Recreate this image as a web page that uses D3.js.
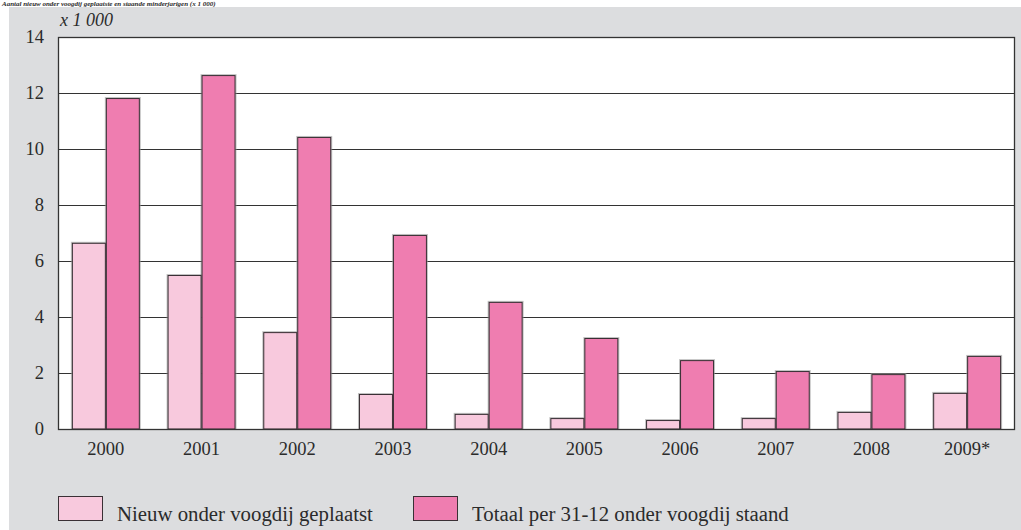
<!DOCTYPE html>
<html>
<head>
<meta charset="utf-8">
<script src="https://cdn.jsdelivr.net/npm/d3@7"></script>
<style>
  html, body { margin: 0; padding: 0; background: #ffffff; }
  svg { display: block; }
  text { font-family: "Liberation Serif", "DejaVu Serif", serif; fill: #2b2b2b; }
</style>
</head>
<body>
<svg id="chart" width="1021" height="530"></svg>
<script>
// Minderjarigen onder voogdij, per jaar (x 1 000)
const years = ["2000", "2001", "2002", "2003", "2004", "2005", "2006", "2007", "2008", "2009*"];
const nieuw = [6.65, 5.50, 3.46, 1.25, 0.54, 0.39, 0.32, 0.39, 0.61, 1.29];
const totaal = [11.82, 12.64, 10.43, 6.93, 4.54, 3.25, 2.46, 2.07, 1.96, 2.61];
const yTicks = [0, 2, 4, 6, 8, 10, 12, 14];
const seriesNames = ["Nieuw onder voogdij geplaatst", "Totaal per 31-12 onder voogdij staand"];
const seriesColors = ["#f8c9dd", "#ef7db0"];

const svg = d3.select("#chart");
const W = 1021, H = 530;

// Grey panel
svg.append("rect").attr("x", 9).attr("y", 7).attr("width", W - 9).attr("height", H - 7)
  .attr("fill", "#dcdddf");

// Title line in the strip above the panel
svg.append("text")
  .attr("x", 2).attr("y", 5.5)
  .attr("font-size", 7).attr("font-weight", "bold").attr("font-style", "italic")
  .text("Aantal nieuw onder voogdij geplaatste en staande minderjarigen (x 1 000)");

const plot = { left: 58, right: 1015, top: 37, bottom: 429 };

const x = d3.scaleBand().domain(years).range([plot.left, plot.right])
  .paddingInner(0.29).paddingOuter(0.145);
const y = d3.scaleLinear().domain([0, 14]).range([plot.bottom, plot.top]);

// Plot background
svg.append("rect").attr("x", plot.left).attr("y", plot.top)
  .attr("width", plot.right - plot.left).attr("height", plot.bottom - plot.top)
  .attr("fill", "#ffffff");

// Gridlines
svg.append("g").selectAll("line").data(yTicks).join("line")
  .attr("x1", plot.left).attr("x2", plot.right)
  .attr("y1", d => y(d) + 0.5).attr("y2", d => y(d) + 0.5)
  .attr("stroke", "#333333").attr("stroke-width", 1.1);

// Bars
const half = x.bandwidth() / 2;
const data = years.map((yr, i) => ({ yr, vals: [nieuw[i], totaal[i]] }));
const groups = svg.append("g").selectAll("g").data(data).join("g")
  .attr("transform", d => `translate(${x(d.yr)},0)`);

// soft shadow
groups.selectAll("rect.sh").data(d => d.vals).join("rect").attr("class", "sh")
  .attr("x", (d, i) => i * half - 1).attr("y", d => y(d) - 1)
  .attr("width", half + 2).attr("height", d => y(0) - y(d) + 1)
  .attr("fill", "#9a9a9a").attr("opacity", 0.6);

groups.selectAll("rect.bar").data(d => d.vals).join("rect").attr("class", "bar")
  .attr("x", (d, i) => i * half + 0.5).attr("y", d => y(d) + 0.5)
  .attr("width", half - 1).attr("height", d => y(0) - y(d) - 0.5)
  .attr("fill", (d, i) => seriesColors[i])
  .attr("stroke", "#3a3035").attr("stroke-width", 1);

// Plot frame
svg.append("rect").attr("x", plot.left + 0.5).attr("y", plot.top + 0.5)
  .attr("width", plot.right - plot.left - 1).attr("height", plot.bottom - plot.top)
  .attr("fill", "none").attr("stroke", "#333333").attr("stroke-width", 1.3);

// Y axis labels
const yAxis = d3.axisLeft(y).tickValues(yTicks).tickSize(0).tickPadding(14);
const gy = svg.append("g").attr("transform", `translate(${plot.left},0)`).call(yAxis);
gy.select(".domain").remove();
gy.selectAll("text").attr("font-size", 18.5).attr("fill", "#2b2b2b")
  .attr("font-family", "Liberation Serif, serif");

// X axis labels
const xAxis = d3.axisBottom(x).tickSize(0).tickPadding(13);
const gx = svg.append("g").attr("transform", `translate(0,${plot.bottom})`).call(xAxis);
gx.select(".domain").remove();
gx.selectAll("text").attr("font-size", 18.5).attr("fill", "#2b2b2b")
  .attr("font-family", "Liberation Serif, serif");

// Unit label
svg.append("text").attr("x", 60).attr("y", 26)
  .attr("font-size", 18).attr("font-style", "italic")
  .text("x 1 000");

// Legend
const legendX = [58, 413];
const lg = svg.append("g").selectAll("g").data(seriesNames).join("g")
  .attr("transform", (d, i) => `translate(${legendX[i]},496)`);
lg.append("rect").attr("x", 0.5).attr("y", 0.5).attr("width", 44).attr("height", 24)
  .attr("fill", (d, i) => seriesColors[i]).attr("stroke", "#3a3035").attr("stroke-width", 1);
lg.append("text").attr("x", 59).attr("y", 25).attr("font-size", 20.8).text(d => d);
</script>
</body>
</html>
